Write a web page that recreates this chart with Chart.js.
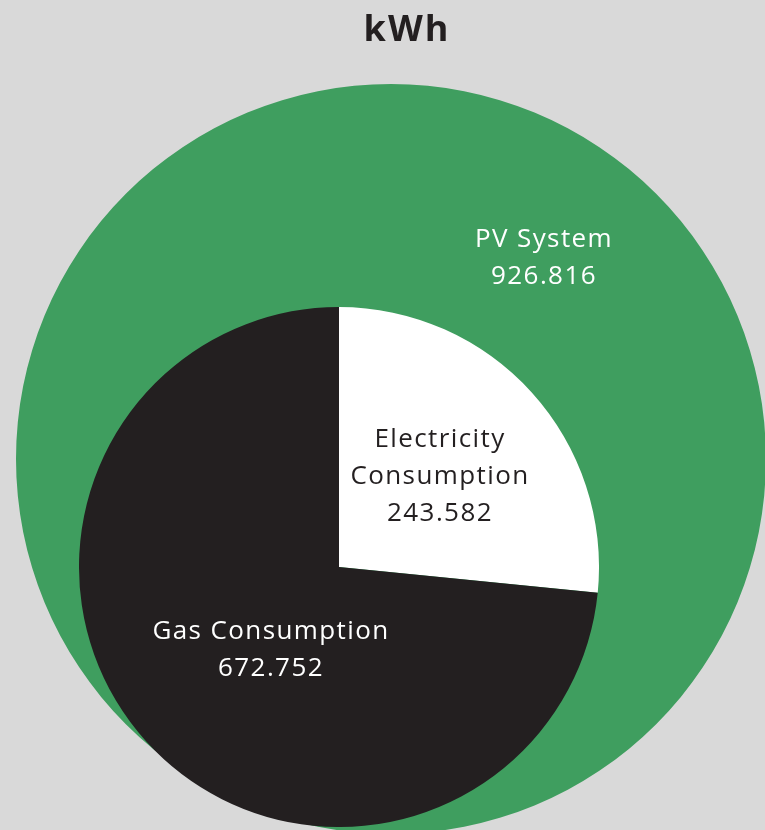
<!DOCTYPE html>
<html>
<head>
<meta charset="utf-8">
<script src="https://cdn.jsdelivr.net/npm/chart.js@4.4.1/dist/chart.umd.min.js"></script>
<style>
  html, body { margin: 0; padding: 0; background: #d9d9d9; overflow: hidden; width: 765px; height: 830px; }
  #outer { position: absolute; left: 0; top: 0; }
  #inner { position: absolute; left: 79px; top: 307px; }
</style>
</head>
<body>
<canvas id="outer" width="800" height="850"></canvas>
<canvas id="inner" width="520" height="520"></canvas>
<script>
const chartTitle = 'kWh';

// outer circle: production
const pvLabels = ['PV System'];
const pvValues = [926.816];

// inner pie: consumption
const useLabels = [['Electricity', 'Consumption'], ['Gas Consumption']];
const useValues = [243.582, 672.752];

const GREEN = '#3f9e5f';
const DARK = '#231f20';
const FONT = '"Open Sans", sans-serif';

const fmt = v => v.toFixed(3);

// label offsets from pie centre (px), first line
const pvLabelOffset = [[153, -219]];
const useLabelOffset = [[101, -127], [-68, 65]];

function labelPlugin(labels, values, offsets, colors) {
    return {
        id: 'sliceLabels',
        afterDatasetsDraw(chart) {
            const ctx = chart.ctx;
            const arcs = chart.getDatasetMeta(0).data;
            ctx.save();
            ctx.font = '400 26px ' + FONT;
            ctx.letterSpacing = '1.4px';
            ctx.textAlign = 'center';
            ctx.textBaseline = 'middle';
            arcs.forEach((arc, i) => {
                const lines = [].concat(labels[i], fmt(values[i]));
                const cx = arc.x + offsets[i][0];
                let y = arc.y + offsets[i][1];
                ctx.fillStyle = colors[i];
                lines.forEach(line => {
                    ctx.fillText(line, cx, y);
                    y += 37;
                });
            });
            ctx.restore();
        }
    };
}

const titlePlugin = {
    id: 'pageTitle',
    afterDraw(chart) {
        const ctx = chart.ctx;
        ctx.save();
        ctx.font = 'bold 36px ' + FONT;
        ctx.letterSpacing = '2px';
        ctx.fillStyle = DARK;
        ctx.textAlign = 'center';
        ctx.textBaseline = 'middle';
        ctx.fillText(chartTitle, 407, 31);
        ctx.restore();
    }
};

const baseOptions = {
    responsive: false,
    animation: false,
    plugins: { legend: { display: false }, tooltip: { enabled: false } }
};

new Chart(document.getElementById('outer'), {
    type: 'pie',
    data: {
        labels: pvLabels,
        datasets: [{ data: pvValues, backgroundColor: [GREEN], borderWidth: 0 }]
    },
    options: Object.assign({}, baseOptions, {
        layout: { padding: { left: 16, top: 84, right: 34, bottom: 16 } }
    }),
    plugins: [labelPlugin(pvLabels, pvValues, pvLabelOffset, ['#ffffff']), titlePlugin]
});

new Chart(document.getElementById('inner'), {
    type: 'pie',
    data: {
        labels: useLabels.map(l => [].concat(l).join(' ')),
        datasets: [{ data: useValues, backgroundColor: ['#ffffff', DARK], borderWidth: 0 }]
    },
    options: Object.assign({}, baseOptions, {
        layout: { padding: 0 }
    }),
    plugins: [labelPlugin(useLabels, useValues, useLabelOffset, [DARK, '#ffffff'])]
});
</script>
</body>
</html>
